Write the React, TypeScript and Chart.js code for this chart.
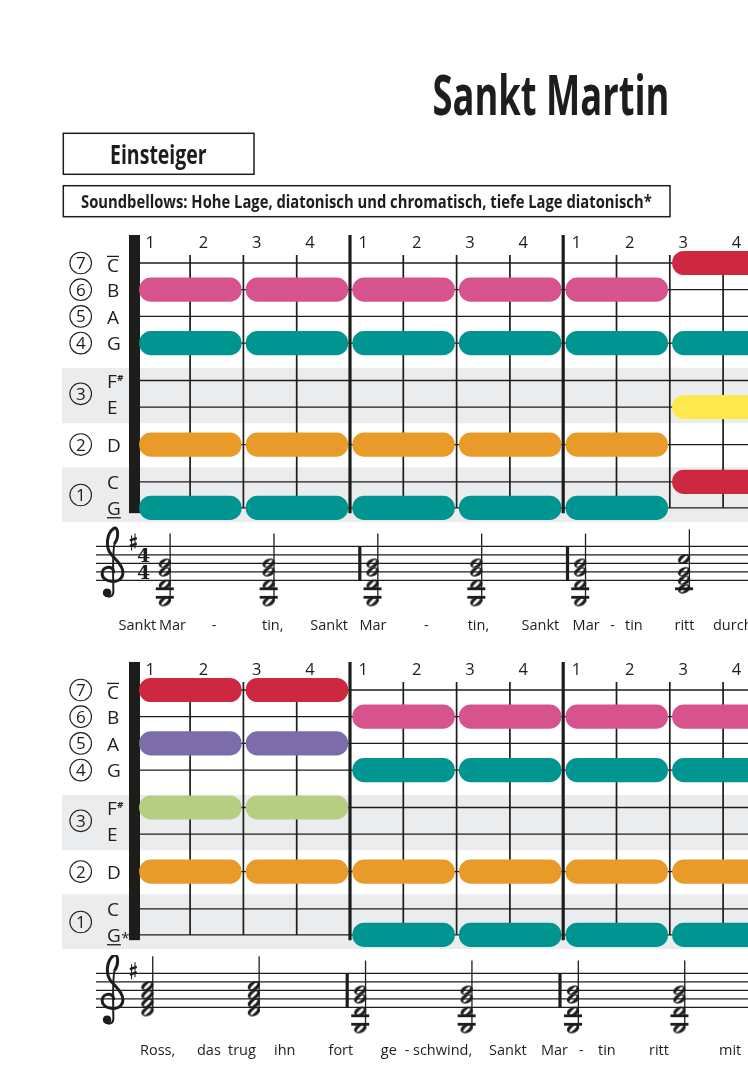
import React, { useEffect, useRef } from 'react';
import { Chart, registerables } from 'chart.js';

Chart.register(...registerables);

// ---------------- data ----------------
const ROW_KEYS = ['C5', 'B4', 'A4', 'G4', 'F#4', 'E4', 'D4', 'C4', 'G3'];
const ROW_LETTERS = ['C', 'B', 'A', 'G', 'F', 'E', 'D', 'C', 'G'];
const ROW_VALUES = [0, 1, 2, 3, 4.4, 5.4, 6.8, 8.2, 9.17];
const ROW_STAFF_STEPS = [5, 4, 3, 2, 1, 0, -1, -2, -5];
const ROW_COLORS = ['#cd283f', '#d6538d', '#7c6daa', '#009590', '#b5ce82', '#fde94b', '#e99b29', '#cd283f', '#009590'];
const HOLE_NUMBERS = ['7', '6', '5', '4', '3', '2', '1'];
const HOLE_VALUES = [0, 1, 2, 3, 4.9, 6.8, 8.69];
const BAND_RANGES = [[3.93, 6.0], [7.65, 9.7]];
const BEAT_LABELS = ['1', '2', '3', '4'];
const BEATS_PER_MEASURE = 4;
const NOTE_LENGTH = 2;

const G_CHORD = ['B4', 'G4', 'D4', 'G3'];
const C_CHORD = ['C5', 'G4', 'E4', 'C4'];
const D7_CHORD = ['C5', 'A4', 'F#4', 'D4'];

const SYSTEM1_BEATS = [0, 2, 4, 6, 8, 10];
const SYSTEM1_CHORDS = [G_CHORD, G_CHORD, G_CHORD, G_CHORD, G_CHORD, C_CHORD];
const SYSTEM2_BEATS = [0, 2, 4, 6, 8, 10];
const SYSTEM2_CHORDS = [D7_CHORD, D7_CHORD, G_CHORD, G_CHORD, G_CHORD, G_CHORD];

const LYRICS1 = ['Sankt', 'Mar', '-', 'tin,', 'Sankt', 'Mar', '-', 'tin,', 'Sankt', 'Mar', '-', 'tin', 'ritt', 'durch'];
const LYRICS2 = ['Ross,', 'das', 'trug', 'ihn', 'fort', 'ge', '-', 'schwind,', 'Sankt', 'Mar', '-', 'tin', 'ritt', 'mit'];

const TITLE = 'Sankt Martin';
const LEVEL = 'Einsteiger';
const INSTRUMENT = 'Soundbellows: Hohe Lage, diatonisch und chromatisch, tiefe Lage diatonisch*';

// ---------------- layout / style ----------------
const PAGE_W = 748;
const PAGE_H = 1074;
const INK = '#1d1d1b';
const BAND = '#ebecee';
const SANS = '"Open Sans", "Noto Sans", "DejaVu Sans", sans-serif';
const FIRST_BEAT_X = 136.8;
const BEAT_PX = 53.3;
const ROW_PX = 26.7;
const PILL_START = 0.05;
const PILL_END = 0.04;
const STEP_PX = 4.25;
const CHORD_OFFSET = 0.245;

const LYRICS1_X = [118.5, 159, 211.7, 262, 310.3, 359.5, 424, 467.7, 521.5, 572.6, 610.3, 625, 674.5, 713];
const LYRICS2_X = [140, 197, 228, 274, 328.5, 380.8, 404.7, 413, 489, 541, 579, 598, 649, 719];

function line(ctx: any, x1: number, y1: number, x2: number, y2: number) {
  ctx.beginPath();
  ctx.moveTo(x1, y1);
  ctx.lineTo(x2, y2);
  ctx.stroke();
}

function BarSystem(props: { top: number; height: number; rowZero: number; beats: number[]; chords: string[][]; lowStar: boolean }) {
  const ref = useRef<HTMLCanvasElement>(null);
  useEffect(() => {
    const canvas = ref.current as HTMLCanvasElement;
    const { height, rowZero, beats, chords, lowStar } = props;
    const data: any[] = [];
    const colors: string[] = [];
    beats.forEach((b, i) => {
      chords[i].forEach((key) => {
        const r = ROW_KEYS.indexOf(key);
        data.push({ x: [b + PILL_START, b + NOTE_LENGTH - PILL_END], y: ROW_VALUES[r] });
        colors.push(ROW_COLORS[r]);
      });
    });
    const yMin = -rowZero / ROW_PX;
    const yMax = (height - rowZero) / ROW_PX;
    const xMax = (PAGE_W - FIRST_BEAT_X) / BEAT_PX;

    const plugin = {
      id: 'systemDecor',
      beforeDraw(chart: any) {
        const { ctx } = chart;
        const y = chart.scales.y;
        ctx.save();
        ctx.fillStyle = BAND;
        BAND_RANGES.forEach(([a, b]) => {
          const y0 = y.getPixelForValue(a);
          const y1 = y.getPixelForValue(b);
          ctx.fillRect(62, y0, chart.width - 62, y1 - y0);
        });
        ctx.restore();
      },
      beforeDatasetsDraw(chart: any) {
        const { ctx } = chart;
        const x = chart.scales.x;
        const y = chart.scales.y;
        const W = chart.width;
        ctx.save();
        ctx.strokeStyle = INK;
        ctx.fillStyle = INK;
        // row lines
        ctx.lineWidth = 1.3;
        const x0 = x.getPixelForValue(0);
        ROW_VALUES.forEach((v) => line(ctx, x0, y.getPixelForValue(v), W, y.getPixelForValue(v)));
        // beat & measure lines
        const mTop = y.getPixelForValue(-1.05);
        const mBot = y.getPixelForValue(9.37);
        for (let b = 1; b <= Math.ceil(xMax); b++) {
          const px = x.getPixelForValue(b);
          if (px > W + 3) break;
          if (b % BEATS_PER_MEASURE === 0) {
            ctx.lineWidth = 3.2;
            line(ctx, px, mTop, px, mBot);
          } else {
            ctx.lineWidth = 1.7;
            line(ctx, px, y.getPixelForValue(-0.3), px, y.getPixelForValue(ROW_VALUES[8]));
          }
        }
        ctx.fillRect(x0 - 7.8, mTop, 11, mBot - mTop);
        // beat labels
        ctx.font = '16.5px ' + SANS;
        ctx.textAlign = 'center';
        ctx.textBaseline = 'alphabetic';
        for (let b = 0; b <= Math.floor(xMax); b++) {
          ctx.fillText(BEAT_LABELS[b % BEATS_PER_MEASURE], x.getPixelForValue(b + 0.25), y.getPixelForValue(-0.79) + 6);
        }
        // hole numbers
        ctx.lineWidth = 1.1;
        HOLE_VALUES.forEach((v, i) => {
          const cy = y.getPixelForValue(v);
          ctx.beginPath();
          ctx.arc(80.7, cy, 10.8, 0, Math.PI * 2);
          ctx.stroke();
          ctx.font = '17px ' + SANS;
          ctx.fillText(HOLE_NUMBERS[i], 80.9, cy + 6);
        });
        // note letters
        ctx.textAlign = 'left';
        ROW_VALUES.forEach((v, i) => {
          const cy = y.getPixelForValue(v);
          const key = ROW_KEYS[i];
          ctx.font = '19px ' + SANS;
          const shift = key === 'C5' ? 1.7 : 0.5;
          ctx.fillText(ROW_LETTERS[i], 107, cy + shift + 6.8);
          const w = ctx.measureText(ROW_LETTERS[i]).width;
          ctx.lineWidth = 1.3;
          if (key === 'C5') line(ctx, 107, cy - 6.6, 107 + w, cy - 6.6);
          if (key === 'G3') {
            line(ctx, 107, cy + 9.9, 107 + w, cy + 9.9);
            if (lowStar) {
              ctx.font = '15px ' + SANS;
              ctx.fillText('*', 107 + w + 0.5, cy + 8.5);
            }
          }
          if (key === 'F#4') {
            ctx.font = 'bold 9.5px ' + SANS;
            ctx.fillText('#', 107 + w + 0.5, cy + 1);
          }
        });
        ctx.restore();
      },
    };

    const chart = new Chart(canvas, {
      type: 'bar',
      data: {
        datasets: [
          {
            data,
            backgroundColor: colors,
            borderWidth: 0,
            borderRadius: 12,
            borderSkipped: false,
            barThickness: 23.5,
          } as any,
        ],
      },
      options: {
        indexAxis: 'y',
        animation: false,
        responsive: false,
        maintainAspectRatio: false,
        events: [],
        layout: { padding: { left: FIRST_BEAT_X, top: 0, right: 0, bottom: 0 }, autoPadding: false } as any,
        scales: {
          x: { type: 'linear', min: 0, max: xMax, display: false },
          y: { type: 'linear', min: yMin, max: yMax, reverse: true, offset: false, display: false } as any,
        },
        plugins: { legend: { display: false }, tooltip: { enabled: false } },
      } as any,
      plugins: [plugin],
    });
    return () => chart.destroy();
  }, []);
  return (
    <canvas
      ref={ref}
      width={PAGE_W}
      height={props.height}
      style={{ position: 'absolute', left: 0, top: props.top, width: PAGE_W, height: props.height, display: 'block' }}
    />
  );
}

function makeNoteHead() {
  const c = document.createElement('canvas');
  c.width = 16;
  c.height = 12;
  const g = c.getContext('2d') as CanvasRenderingContext2D;
  g.translate(8, 6);
  g.rotate(-0.42);
  g.fillStyle = INK;
  g.beginPath();
  g.ellipse(0, 0, 6.4, 4.4, 0, 0, Math.PI * 2);
  g.fill();
  g.globalCompositeOperation = 'destination-out';
  g.rotate(-0.35);
  g.beginPath();
  g.ellipse(0, 0, 4.6, 1.5, 0, 0, Math.PI * 2);
  g.fill();
  return c;
}

function drawClef(ctx: any, cx: number, gy: number, u: number) {
  const P = (x: number, y: number) => [cx + x * u, gy + y * u];
  const bez = (a: number, b: number, c: number, d: number, e: number, f: number) => {
    const p1 = P(a, b), p2 = P(c, d), p3 = P(e, f);
    ctx.bezierCurveTo(p1[0], p1[1], p2[0], p2[1], p3[0], p3[1]);
  };
  ctx.save();
  ctx.strokeStyle = INK;
  ctx.fillStyle = INK;
  ctx.lineCap = 'round';
  ctx.lineJoin = 'round';
  ctx.lineWidth = 3;
  ctx.beginPath();
  const s = P(0.25, 0.0);
  ctx.moveTo(s[0], s[1]);
  bez(0.25, -0.75, -1.05, -0.75, -1.1, 0.2);
  bez(-1.15, 1.25, 0.95, 1.55, 1.3, 0.4);
  bez(1.55, -0.5, 0.6, -1.3, 0.0, -2.0);
  bez(-0.75, -2.85, -0.6, -4.5, 0.25, -5.1);
  bez(0.85, -5.4, 0.85, -4.0, 0.4, -3.4);
  ctx.stroke();
  ctx.lineWidth = 2;
  ctx.beginPath();
  const t = P(0.4, -3.4);
  ctx.moveTo(t[0], t[1]);
  bez(0.2, -3.0, 0.15, -1.0, 0.22, 2.2);
  bez(0.27, 3.0, -0.4, 3.1, -0.8, 2.65);
  ctx.stroke();
  const d = P(-0.52, 2.45);
  ctx.beginPath();
  ctx.arc(d[0], d[1], 0.5 * u, 0, Math.PI * 2);
  ctx.fill();
  ctx.restore();
}

function drawSharp(ctx: any, x: number, y: number) {
  ctx.save();
  ctx.strokeStyle = INK;
  ctx.lineWidth = 1.1;
  line(ctx, x - 1.7, y - 6.5, x - 1.7, y + 8.5);
  line(ctx, x + 1.7, y - 8.5, x + 1.7, y + 6.5);
  ctx.lineWidth = 2.4;
  line(ctx, x - 3.5, y - 1.6, x + 3.5, y - 3.9);
  line(ctx, x - 3.5, y + 3.9, x + 3.5, y + 1.6);
  ctx.restore();
}

function StaffSystem(props: {
  top: number; height: number; e4Y: number; originX: number; beatPx: number;
  beats: number[]; chords: string[][]; sharpStep: number; showTime: boolean;
}) {
  const ref = useRef<HTMLCanvasElement>(null);
  useEffect(() => {
    const canvas = ref.current as HTMLCanvasElement;
    const { height, e4Y, originX, beatPx, beats, chords, sharpStep, showTime } = props;
    const head = makeNoteHead();
    const notes: any[] = [];
    const ledgers: any[] = [];
    const stems: { x: number; lo: number; hi: number }[] = [];
    beats.forEach((b, i) => {
      const steps = chords[i].map((k) => ROW_STAFF_STEPS[ROW_KEYS.indexOf(k)]);
      steps.forEach((s) => notes.push({ x: b + CHORD_OFFSET, y: s }));
      const lo = Math.min(...steps);
      const hi = Math.max(...steps);
      for (let s = -2; s >= lo; s -= 2) ledgers.push({ x: b + CHORD_OFFSET, y: s });
      stems.push({ x: b + CHORD_OFFSET, lo, hi });
    });
    const xMin = -originX / beatPx;
    const xMax = (PAGE_W - originX) / beatPx;
    const yMax = e4Y / STEP_PX;
    const yMin = yMax - height / STEP_PX;

    const plugin = {
      id: 'staffDecor',
      beforeDatasetsDraw(chart: any) {
        const { ctx } = chart;
        const x = chart.scales.x;
        const y = chart.scales.y;
        ctx.save();
        ctx.strokeStyle = INK;
        ctx.fillStyle = INK;
        ctx.lineWidth = 1.25;
        for (let s = 0; s <= 8; s += 2) line(ctx, 96, y.getPixelForValue(s), chart.width, y.getPixelForValue(s));
        ctx.lineWidth = 3.2;
        for (let b = BEATS_PER_MEASURE; b < xMax; b += BEATS_PER_MEASURE) {
          const px = x.getPixelForValue(b);
          line(ctx, px, y.getPixelForValue(8), px, y.getPixelForValue(0));
        }
        drawClef(ctx, 111.5, y.getPixelForValue(2), STEP_PX * 2);
        drawSharp(ctx, 133.3, y.getPixelForValue(sharpStep));
        if (showTime) {
          ctx.font = 'bold 19px "DejaVu Serif", serif';
          ctx.textAlign = 'center';
          ctx.textBaseline = 'alphabetic';
          ctx.fillText('4', 143.5, y.getPixelForValue(6) + 7);
          ctx.fillText('4', 143.5, y.getPixelForValue(2) + 7);
        }
        ctx.restore();
      },
      afterDatasetsDraw(chart: any) {
        const { ctx } = chart;
        const x = chart.scales.x;
        const y = chart.scales.y;
        ctx.save();
        ctx.strokeStyle = INK;
        ctx.lineWidth = 1.3;
        stems.forEach((st) => {
          const px = x.getPixelForValue(st.x) + 5.3;
          line(ctx, px, y.getPixelForValue(st.lo), px, y.getPixelForValue(st.hi + 7));
        });
        ctx.restore();
      },
    };

    const chart = new Chart(canvas, {
      type: 'scatter',
      data: {
        datasets: [
          { data: notes, pointStyle: head, pointRadius: 6, showLine: false } as any,
          { data: ledgers, pointStyle: 'line', pointRadius: 9, pointBorderWidth: 2.8, borderColor: INK, pointBorderColor: INK, showLine: false } as any,
        ],
      },
      options: {
        animation: false,
        responsive: false,
        maintainAspectRatio: false,
        events: [],
        layout: { padding: 0, autoPadding: false } as any,
        scales: {
          x: { type: 'linear', min: xMin, max: xMax, display: false },
          y: { type: 'linear', min: yMin, max: yMax, display: false },
        },
        plugins: { legend: { display: false }, tooltip: { enabled: false } },
      } as any,
      plugins: [plugin],
    });
    return () => chart.destroy();
  }, []);
  return (
    <canvas
      ref={ref}
      width={PAGE_W}
      height={props.height}
      style={{ position: 'absolute', left: 0, top: props.top, width: PAGE_W, height: props.height, display: 'block' }}
    />
  );
}

export default function App() {
  return (
    <div style={{ position: 'absolute', left: 0, top: 0, width: PAGE_W, height: PAGE_H, overflow: 'hidden', background: '#fff' }}>
      <BarSystem top={225} height={300} rowZero={38} beats={SYSTEM1_BEATS} chords={SYSTEM1_CHORDS} lowStar={false} />
      <StaffSystem top={525} height={90} e4Y={55.3} originX={152.1} beatPx={51.925}
        beats={SYSTEM1_BEATS} chords={SYSTEM1_CHORDS} sharpStep={9} showTime={true} />
      <BarSystem top={650} height={305} rowZero={40} beats={SYSTEM2_BEATS} chords={SYSTEM2_CHORDS} lowStar={true} />
      <StaffSystem top={955} height={85} e4Y={52.3} originX={134.4} beatPx={53.2}
        beats={SYSTEM2_BEATS} chords={SYSTEM2_CHORDS} sharpStep={8.6} showTime={false} />
      <svg width={PAGE_W} height={PAGE_H} style={{ position: 'absolute', left: 0, top: 0, pointerEvents: 'none' }}>
        <text x={432.5} y={115} fontFamily={SANS} fontWeight={700} fontSize={56} fill={INK}
          textLength={237} lengthAdjust="spacingAndGlyphs">{TITLE}</text>
        <rect x={63.3} y={133.3} width={190.7} height={41} fill="none" stroke={INK} strokeWidth={1.5} />
        <text x={110} y={164} fontFamily={SANS} fontWeight={700} fontSize={27} fill={INK}
          textLength={96.7} lengthAdjust="spacingAndGlyphs">{LEVEL}</text>
        <rect x={63.3} y={185.7} width={606.7} height={31} fill="none" stroke={INK} strokeWidth={1.5} />
        <text x={81} y={208.2} fontFamily={SANS} fontWeight={700} fontSize={18.6} fill={INK}
          textLength={570.7} lengthAdjust="spacingAndGlyphs">{INSTRUMENT}</text>
        {LYRICS1.map((w, i) => (
          <text key={'a' + i} x={LYRICS1_X[i]} y={630} fontFamily={SANS} fontSize={14.5} fill={INK}>{w}</text>
        ))}
        {LYRICS2.map((w, i) => (
          <text key={'b' + i} x={LYRICS2_X[i]} y={1055} fontFamily={SANS} fontSize={14.5} fill={INK}>{w}</text>
        ))}
      </svg>
    </div>
  );
}
